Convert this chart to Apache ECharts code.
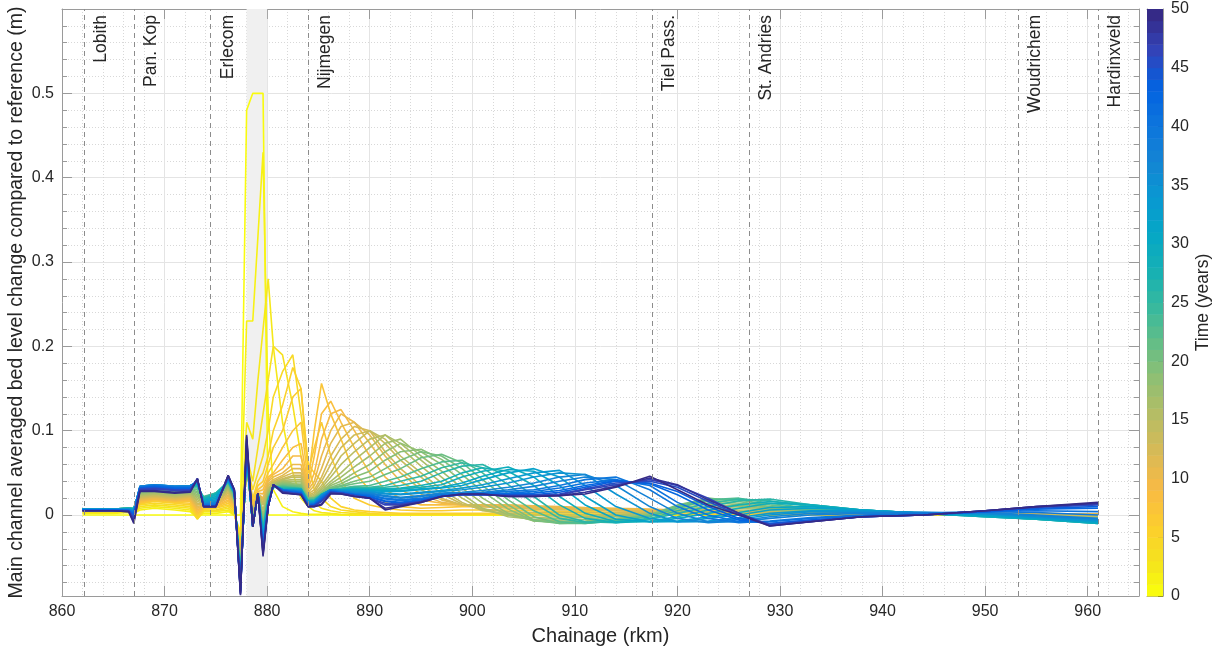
<!DOCTYPE html>
<html>
<head>
<meta charset="utf-8">
<script src="https://cdn.jsdelivr.net/npm/echarts@6/dist/echarts.min.js"></script>
<style>
  html, body { margin: 0; padding: 0; background: #fff; }
  #chart { width: 1217px; height: 654px; }
</style>
</head>
<body>
<div id="chart"></div>
<script>
// chainage grid (rkm) shared by all profiles
const km = [862, 865, 866.5, 867, 867.6, 869, 871, 872.5, 873.2, 873.8, 875, 876.2, 876.8,
  877.4, 878, 878.6, 879.1, 879.6, 880.1, 880.6,
  881.5, 882.5, 883.3, 884, 884.6, 885.3, 886.2, 887.2, 888.5, 890, 891.5, 893,
  895, 897, 899, 901, 903.5, 906, 908.5, 911, 914, 917.3,
  920, 923, 926, 929, 933, 938, 944, 950, 955, 961];

// years of the plotted profiles
const years = [0, 1, 2, 3, 4, 5, 6, 7, 8, 9, 10, 11, 12, 13, 14, 15, 16, 17, 18, 19, 20, 21,
  23, 25, 26, 28, 29, 31, 32, 34, 35, 37, 38, 40, 41, 43, 44, 46, 47, 49, 50];

// bed level change (m) per year
const y00 = [0,0,0,0,0,0,0,0,0,0,0,0,0,
  0,0.48,0.5,0.5,0.5,0,0,
  0,0,0,0,0,0,0,0,0,0,0,0,
  0,0,0,0,0,0,0,0,0,0,
  0,0,0,0,0,0,0,0,0,0];
const y01 = [0.002,0.002,0.003,0.002,0.006,0.008,0.006,0.004,-0.003,0.002,0.002,0.004,0,
  -0.02,0.23,0.23,0.33,0.43,0.12,0.03,
  0.01,0.004,0.002,0.001,0.001,0.001,0.001,0,0,0,0,0,
  0,0,0,0,0,0,0,0,0,0,
  0,0,0,0,0,0,0,0,0,0];
const y02 = [0.003,0.003,0.004,0.003,0.008,0.01,0.008,0.006,-0.004,0.004,0.004,0.006,0,
  -0.025,0.11,0.09,0.16,0.22,0.28,0.2,
  0.11,0.05,0.02,0.01,0.005,0.003,0.002,0.001,0,0,0,0,
  0,0,0,0,0,0,0,0,0,0,
  0,0,0,0,0,0,0,0,0,0];
const y03 = [0.004,0.004,0.004,0.003,0.01,0.012,0.01,0.008,-0.005,0.005,0.005,0.008,0.002,
  -0.03,0.07,0.04,0.08,0.12,0.16,0.2,
  0.19,0.13,0.07,0.03,0.015,0.008,0.005,0.003,0.002,0.001,0.001,0.001,
  0.001,0.001,0.001,0.001,0.001,0.001,0.001,0.001,0.001,0.001,
  0,0,0,0,0,0,0,0,0,0];
const y04 = [0.004,0.004,0.005,0.004,0.012,0.014,0.012,0.01,-0.004,0.006,0.006,0.01,0.004,
  -0.035,0.06,0.03,0.05,0.07,0.1,0.14,
  0.17,0.19,0.12,0.06,0.03,0.02,0.01,0.006,0.004,0.002,0.001,0.001,
  0.001,0.001,0.001,0.001,0.001,0.001,0.001,0.001,0.001,0.001,
  0.001,0.001,0,0,0,0,0,0,0,0];
const y05 = [0.005,0.005,0.005,0.004,0.013,0.016,0.014,0.012,-0.002,0.007,0.008,0.012,0.006,
  -0.04,0.06,0.02,0.04,0.05,0.07,0.1,
  0.13,0.175,0.15,0.06,0.05,0.04,0.02,0.01,0.006,0.004,0.003,0.002,
  0.002,0.002,0.002,0.002,0.002,0.002,0.001,0.001,0.001,0.001,
  0.001,0.001,0.001,0.001,0,0,0,0,0,0];
const y06 = [0.005,0.005,0.006,0.005,0.014,0.017,0.015,0.014,0,0.008,0.009,0.014,0.008,
  -0.045,0.06,0.015,0.035,0.04,0.06,0.08,
  0.1,0.14,0.15,0.05,0.08,0.11,0.07,0.04,0.02,0.012,0.008,0.006,
  0.005,0.005,0.006,0.006,0.006,0.005,0.004,0.004,0.003,0.003,
  0.003,0.002,0.002,0.002,0.002,0.001,0.001,0.001,0.001,0.001];
const y07 = [0.006,0.006,0.006,0.005,0.015,0.018,0.016,0.016,0.002,0.009,0.01,0.016,0.01,
  -0.05,0.06,0.01,0.03,0.035,0.05,0.06,
  0.08,0.1,0.11,0.04,0.1,0.156,0.12,0.09,0.05,0.03,0.015,0.01,
  0.008,0.009,0.01,0.01,0.01,0.008,0.007,0.006,0.005,0.004,
  0.004,0.003,0.003,0.003,0.002,0.002,0.002,0.001,0.001,0.001];
const y08 = [0.006,0.006,0.006,0.005,0.016,0.019,0.017,0.018,0.004,0.01,0.011,0.018,0.011,
  -0.052,0.06,0.008,0.028,0.03,0.045,0.05,
  0.065,0.08,0.085,0.035,0.07,0.12,0.135,0.11,0.08,0.05,0.03,0.02,
  0.012,0.012,0.012,0.012,0.011,0.01,0.009,0.008,0.006,0.005,
  0.005,0.004,0.004,0.003,0.003,0.002,0.002,0.002,0.001,0.001];
const y09 = [0.006,0.006,0.006,0.005,0.017,0.019,0.017,0.019,0.006,0.011,0.012,0.02,0.012,
  -0.054,0.06,0.006,0.026,0.025,0.042,0.048,
  0.055,0.07,0.07,0.032,0.05,0.09,0.12,0.125,0.1,0.07,0.045,0.03,
  0.018,0.014,0.012,0.012,0.011,0.01,0.009,0.008,0.007,0.006,
  0.005,0.004,0.004,0.003,0.003,0.002,0.002,0.002,0.001,0.001];
const y10 = [0.006,0.006,0.007,0.006,0.018,0.02,0.018,0.02,0.008,0.012,0.013,0.022,0.013,
  -0.055,0.06,0.005,0.025,0.02,0.04,0.045,
  0.05,0.06,0.06,0.03,0.04,0.07,0.1,0.12,0.11,0.085,0.06,0.04,
  0.025,0.015,0.012,0.012,0.012,0.011,0.01,0.009,0.008,0.007,
  0.006,0.005,0.004,0.004,0.003,0.003,0.002,0.002,0.002,0.001];
const y11 = [0.006,0.006,0.007,0.006,0.019,0.021,0.019,0.021,0.01,0.012,0.014,0.024,0.014,
  -0.057,0.06,0.002,0.025,0.018,0.037,0.042,
  0.047,0.055,0.055,0.027,0.035,0.055,0.085,0.105,0.11,0.095,0.07,0.05,
  0.03,0.018,0.012,0.011,0.01,0.009,0.008,0.007,0.006,0.005,
  0.005,0.004,0.004,0.003,0.003,0.002,0.002,0.002,0.001,0.001];
const y12 = [0.006,0.006,0.007,0.006,0.02,0.022,0.02,0.022,0.012,0.013,0.015,0.026,0.015,
  -0.058,0.06,0,0.025,0.015,0.035,0.04,
  0.045,0.05,0.05,0.025,0.03,0.045,0.07,0.09,0.105,0.1,0.075,0.055,
  0.035,0.02,0.012,0.01,0.008,0.007,0.006,0.006,0.005,0.004,
  0.004,0.004,0.003,0.003,0.003,0.002,0.002,0.002,0.001,0];
const y13 = [0.006,0.006,0.007,0.006,0.021,0.023,0.021,0.023,0.014,0.013,0.015,0.028,0.016,
  -0.059,0.06,-0.001,0.025,0.013,0.032,0.039,
  0.043,0.047,0.047,0.023,0.027,0.04,0.06,0.08,0.095,0.1,0.085,0.065,
  0.045,0.025,0.013,0.007,0.004,0.003,0.003,0.003,0.003,0.003,
  0.003,0.004,0.003,0.003,0.003,0.002,0.002,0.002,0.001,-0.001];
const y14 = [0.007,0.007,0.007,0.006,0.022,0.024,0.022,0.024,0.016,0.014,0.016,0.03,0.017,
  -0.06,0.06,-0.002,0.025,0.012,0.03,0.038,
  0.042,0.045,0.045,0.022,0.025,0.035,0.05,0.07,0.085,0.1,0.09,0.07,
  0.05,0.03,0.015,0.005,0.002,0,0,0,0.001,0.002,
  0.003,0.004,0.004,0.004,0.003,0.003,0.002,0.002,0,-0.002];
const y15 = [0.007,0.007,0.007,0.006,0.023,0.025,0.023,0.025,0.018,0.015,0.017,0.031,0.018,
  -0.062,0.061,-0.003,0.025,0.006,0.029,0.037,
  0.041,0.042,0.042,0.021,0.023,0.032,0.045,0.06,0.075,0.09,0.095,0.08,
  0.058,0.038,0.02,0.006,0,-0.003,-0.002,-0.002,0,0.002,
  0.004,0.007,0.006,0.005,0.004,0.003,0.002,0.001,-0.001,-0.003];
const y16 = [0.007,0.007,0.007,0.007,0.024,0.026,0.024,0.026,0.02,0.016,0.018,0.032,0.019,
  -0.065,0.062,-0.005,0.025,0,0.028,0.036,
  0.04,0.04,0.04,0.02,0.022,0.03,0.04,0.05,0.065,0.08,0.095,0.085,
  0.065,0.045,0.025,0.008,-0.002,-0.005,-0.004,-0.003,-0.001,0.002,
  0.006,0.01,0.008,0.006,0.004,0.003,0.002,0.001,-0.001,-0.003];
const y17 = [0.007,0.007,0.007,0.007,0.025,0.027,0.025,0.027,0.022,0.017,0.019,0.033,0.019,
  -0.066,0.063,-0.006,0.025,-0.003,0.026,0.035,
  0.039,0.038,0.038,0.02,0.021,0.028,0.037,0.045,0.057,0.07,0.085,0.09,
  0.07,0.052,0.032,0.014,0,-0.006,-0.006,-0.005,-0.002,0.001,
  0.008,0.013,0.01,0.007,0.005,0.003,0.002,0,-0.002,-0.004];
const y18 = [0.007,0.007,0.008,0.007,0.026,0.028,0.026,0.028,0.024,0.018,0.02,0.034,0.02,
  -0.068,0.065,-0.008,0.025,-0.005,0.025,0.034,
  0.038,0.037,0.036,0.02,0.02,0.027,0.035,0.04,0.05,0.06,0.075,0.085,
  0.075,0.06,0.04,0.02,0.002,-0.007,-0.008,-0.007,-0.004,0,
  0.01,0.016,0.012,0.008,0.005,0.003,0.002,0,-0.002,-0.005];
const y19 = [0.007,0.007,0.008,0.007,0.027,0.029,0.027,0.029,0.026,0.019,0.021,0.035,0.021,
  -0.069,0.066,-0.009,0.025,-0.008,0.023,0.033,
  0.037,0.036,0.035,0.02,0.02,0.026,0.033,0.037,0.045,0.052,0.065,0.075,
  0.078,0.066,0.048,0.028,0.007,-0.007,-0.009,-0.008,-0.005,0,
  0.011,0.018,0.014,0.009,0.005,0.003,0.002,0,-0.003,-0.006];
const y20 = [0.007,0.007,0.008,0.007,0.028,0.03,0.028,0.03,0.028,0.02,0.022,0.036,0.022,
  -0.07,0.067,-0.01,0.025,-0.01,0.022,0.033,
  0.036,0.035,0.034,0.02,0.02,0.026,0.032,0.035,0.04,0.045,0.055,0.065,
  0.075,0.07,0.055,0.035,0.012,-0.006,-0.01,-0.009,-0.005,0,
  0.012,0.02,0.016,0.01,0.006,0.004,0.002,0,-0.003,-0.007];
const y21 = [0.007,0.007,0.008,0.007,0.029,0.031,0.029,0.031,0.03,0.021,0.024,0.037,0.023,
  -0.071,0.068,-0.011,0.025,-0.012,0.021,0.033,
  0.035,0.034,0.033,0.019,0.02,0.025,0.031,0.034,0.037,0.04,0.048,0.055,
  0.068,0.072,0.062,0.042,0.018,-0.002,-0.01,-0.01,-0.006,-0.001,
  0.01,0.019,0.018,0.012,0.007,0.004,0.002,0,-0.003,-0.007];
const y23 = [0.007,0.007,0.008,0.008,0.03,0.032,0.03,0.032,0.032,0.022,0.026,0.038,0.024,
  -0.073,0.07,-0.012,0.025,-0.014,0.02,0.033,
  0.034,0.033,0.032,0.018,0.019,0.025,0.03,0.032,0.034,0.035,0.04,0.045,
  0.055,0.063,0.065,0.05,0.025,0.005,-0.008,-0.01,-0.007,-0.002,
  0.008,0.018,0.02,0.014,0.008,0.005,0.002,0,-0.004,-0.008];
const y25 = [0.007,0.007,0.008,0.008,0.031,0.033,0.031,0.033,0.034,0.021,0.026,0.039,0.025,
  -0.075,0.071,-0.013,0.025,-0.016,0.019,0.033,
  0.033,0.032,0.031,0.017,0.018,0.024,0.03,0.031,0.033,0.033,0.035,0.04,
  0.046,0.056,0.062,0.056,0.036,0.014,-0.004,-0.009,-0.008,-0.004,
  0.005,0.014,0.019,0.017,0.01,0.006,0.002,-0.001,-0.005,-0.009];
const y26 = [0.007,0.007,0.008,0.008,0.031,0.033,0.031,0.033,0.035,0.02,0.026,0.04,0.025,
  -0.076,0.072,-0.013,0.025,-0.018,0.018,0.033,
  0.032,0.032,0.031,0.017,0.018,0.024,0.03,0.031,0.032,0.032,0.033,0.035,
  0.04,0.05,0.058,0.06,0.045,0.022,0,-0.008,-0.009,-0.005,
  0.002,0.01,0.017,0.019,0.012,0.006,0.002,-0.002,-0.005,-0.01];
const y28 = [0.007,0.007,0.008,0.007,0.032,0.034,0.032,0.034,0.036,0.019,0.025,0.04,0.026,
  -0.078,0.073,-0.013,0.025,-0.02,0.017,0.034,
  0.031,0.031,0.031,0.016,0.017,0.024,0.03,0.03,0.031,0.031,0.031,0.032,
  0.035,0.04,0.05,0.056,0.052,0.035,0.012,-0.004,-0.009,-0.007,
  -0.002,0.006,0.012,0.016,0.012,0.006,0.002,-0.002,-0.005,-0.01];
const y29 = [0.007,0.007,0.008,0.007,0.032,0.034,0.032,0.034,0.037,0.018,0.024,0.04,0.026,
  -0.079,0.074,-0.013,0.025,-0.022,0.016,0.034,
  0.031,0.031,0.031,0.016,0.017,0.024,0.03,0.03,0.031,0.03,0.03,0.031,
  0.033,0.036,0.045,0.052,0.057,0.045,0.022,0.002,-0.008,-0.008,
  -0.004,0.002,0.008,0.014,0.012,0.006,0.002,-0.002,-0.005,-0.01];
const y31 = [0.007,0.007,0.007,0.006,0.033,0.035,0.033,0.035,0.038,0.017,0.022,0.041,0.027,
  -0.081,0.075,-0.014,0.026,-0.025,0.015,0.035,
  0.03,0.03,0.03,0.015,0.016,0.024,0.03,0.03,0.03,0.029,0.029,0.029,
  0.031,0.033,0.038,0.046,0.054,0.052,0.035,0.012,-0.005,-0.008,
  -0.007,-0.002,0.003,0.009,0.01,0.006,0.002,-0.001,-0.004,-0.009];
const y32 = [0.007,0.007,0.007,0.006,0.033,0.035,0.033,0.035,0.038,0.016,0.02,0.041,0.027,
  -0.082,0.076,-0.014,0.026,-0.026,0.014,0.035,
  0.03,0.03,0.03,0.015,0.016,0.024,0.03,0.03,0.03,0.029,0.028,0.028,
  0.03,0.032,0.035,0.042,0.05,0.055,0.045,0.022,0,-0.008,
  -0.008,-0.004,0,0.006,0.008,0.006,0.002,0,-0.004,-0.008];
const y34 = [0.007,0.007,0.007,0.005,0.034,0.036,0.034,0.035,0.039,0.015,0.018,0.042,0.027,
  -0.084,0.077,-0.014,0.026,-0.029,0.013,0.035,
  0.03,0.03,0.029,0.014,0.015,0.023,0.03,0.029,0.029,0.028,0.026,0.025,
  0.027,0.029,0.032,0.036,0.043,0.05,0.053,0.035,0.01,-0.004,
  -0.008,-0.007,-0.003,0.002,0.005,0.005,0.003,0.001,-0.003,-0.007];
const y35 = [0.007,0.007,0.007,0.005,0.034,0.036,0.034,0.035,0.039,0.014,0.016,0.042,0.027,
  -0.085,0.078,-0.014,0.026,-0.03,0.012,0.035,
  0.03,0.029,0.029,0.014,0.015,0.023,0.03,0.029,0.028,0.027,0.025,0.024,
  0.026,0.028,0.03,0.033,0.038,0.045,0.05,0.048,0.025,0.002,
  -0.008,-0.008,-0.005,0,0.004,0.004,0.003,0.002,-0.002,-0.006];
const y37 = [0.006,0.006,0.006,0.004,0.034,0.036,0.034,0.034,0.04,0.013,0.015,0.043,0.027,
  -0.086,0.079,-0.014,0.026,-0.033,0.011,0.035,
  0.03,0.029,0.028,0.013,0.014,0.022,0.03,0.028,0.027,0.026,0.023,0.021,
  0.023,0.026,0.027,0.029,0.033,0.038,0.045,0.048,0.035,0.01,
  -0.004,-0.009,-0.007,-0.002,0.002,0.003,0.003,0.002,-0.001,-0.005];
const y38 = [0.006,0.006,0.006,0.004,0.034,0.036,0.034,0.034,0.04,0.013,0.014,0.043,0.027,
  -0.087,0.08,-0.013,0.026,-0.034,0.011,0.035,
  0.03,0.029,0.028,0.013,0.014,0.022,0.03,0.028,0.026,0.025,0.022,0.02,
  0.022,0.025,0.026,0.027,0.03,0.034,0.04,0.045,0.042,0.02,
  0.002,-0.008,-0.008,-0.004,0,0.002,0.003,0.003,0,-0.004];
const y40 = [0.006,0.006,0.006,0.003,0.033,0.035,0.033,0.033,0.041,0.012,0.013,0.044,0.028,
  -0.088,0.081,-0.013,0.026,-0.036,0.01,0.035,
  0.03,0.028,0.027,0.012,0.013,0.021,0.029,0.027,0.025,0.024,0.02,0.018,
  0.02,0.024,0.025,0.026,0.028,0.03,0.035,0.042,0.045,0.03,
  0.01,-0.004,-0.009,-0.007,-0.003,0,0.002,0.004,0.003,0];
const y41 = [0.006,0.006,0.006,0.002,0.033,0.035,0.033,0.033,0.041,0.012,0.012,0.044,0.028,
  -0.089,0.082,-0.013,0.026,-0.037,0.01,0.035,
  0.03,0.028,0.027,0.012,0.013,0.02,0.029,0.027,0.025,0.023,0.019,0.017,
  0.019,0.023,0.025,0.025,0.026,0.028,0.032,0.038,0.042,0.035,
  0.015,0,-0.008,-0.008,-0.004,-0.001,0.001,0.004,0.005,0.004];
const y43 = [0.006,0.006,0.005,0.001,0.032,0.034,0.032,0.032,0.042,0.011,0.011,0.045,0.029,
  -0.09,0.084,-0.014,0.026,-0.039,0.01,0.036,
  0.029,0.027,0.026,0.011,0.012,0.019,0.028,0.026,0.024,0.022,0.017,0.015,
  0.018,0.022,0.024,0.024,0.025,0.026,0.029,0.035,0.041,0.037,
  0.024,0.006,-0.006,-0.01,-0.006,-0.002,0,0.004,0.007,0.008];
const y44 = [0.006,0.006,0.005,0,0.032,0.033,0.031,0.031,0.042,0.011,0.011,0.045,0.029,
  -0.091,0.085,-0.014,0.026,-0.04,0.01,0.036,
  0.029,0.027,0.026,0.011,0.012,0.018,0.028,0.026,0.024,0.021,0.016,0.014,
  0.017,0.022,0.024,0.024,0.024,0.024,0.027,0.033,0.04,0.038,
  0.028,0.01,-0.004,-0.01,-0.006,-0.002,0,0.004,0.008,0.01];
const y46 = [0.005,0.005,0.005,-0.003,0.031,0.032,0.03,0.03,0.043,0.01,0.01,0.046,0.03,
  -0.092,0.088,-0.014,0.026,-0.043,0.01,0.036,
  0.028,0.026,0.025,0.01,0.011,0.017,0.027,0.026,0.023,0.02,0.014,0.013,
  0.016,0.022,0.024,0.024,0.023,0.023,0.025,0.031,0.038,0.04,
  0.033,0.016,0,-0.011,-0.007,-0.002,0,0.005,0.009,0.012];
const y47 = [0.005,0.005,0.005,-0.005,0.03,0.031,0.029,0.029,0.043,0.01,0.01,0.046,0.03,
  -0.093,0.09,-0.014,0.026,-0.045,0.01,0.036,
  0.028,0.026,0.025,0.01,0.011,0.016,0.027,0.026,0.023,0.02,0.012,0.012,
  0.016,0.022,0.024,0.024,0.023,0.023,0.024,0.03,0.036,0.042,
  0.035,0.02,0.002,-0.012,-0.008,-0.002,0,0.005,0.01,0.013];
const y49 = [0.005,0.005,0.004,-0.008,0.029,0.029,0.027,0.028,0.043,0.01,0.01,0.047,0.03,
  -0.094,0.093,-0.014,0.026,-0.047,0.01,0.036,
  0.027,0.025,0.024,0.01,0.01,0.013,0.026,0.025,0.022,0.02,0.008,0.011,
  0.015,0.022,0.025,0.025,0.022,0.022,0.023,0.027,0.034,0.044,
  0.036,0.018,0.002,-0.013,-0.008,-0.002,0,0.005,0.01,0.014];
const y50 = [0.005,0.005,0.004,-0.01,0.028,0.028,0.026,0.027,0.043,0.01,0.01,0.047,0.03,
  -0.095,0.095,-0.014,0.026,-0.049,0.01,0.036,
  0.026,0.025,0.024,0.01,0.01,0.012,0.025,0.025,0.022,0.02,0.006,0.01,
  0.015,0.022,0.025,0.025,0.022,0.022,0.023,0.025,0.033,0.046,
  0.03,0.012,0,-0.013,-0.008,-0.002,0,0.005,0.01,0.015];

const profiles = [y00, y01, y02, y03, y04, y05, y06, y07, y08, y09, y10, y11, y12, y13, y14,
  y15, y16, y17, y18, y19, y20, y21, y23, y25, y26, y28, y29, y31, y32, y34, y35, y37, y38,
  y40, y41, y43, y44, y46, y47, y49, y50];

// measuring stations and nourishment reach
const stationNames = ['Lobith', 'Pan. Kop', 'Erlecom', 'Nijmegen', 'Tiel Pass.', 'St. Andries', 'Woudrichem', 'Hardinxveld'];
const stationKm = [862.2, 867, 874.5, 884, 917.5, 927, 953.2, 961];
const nourishReach = [878, 880];
const timeRange = [0, 50];

// parula colormap (flipped: 0 years = yellow, 50 years = dark blue)
const parulaPos = [0, 4, 8, 12, 16, 20, 24, 28, 32, 36, 40, 44, 48, 52, 56, 60, 63];
const parulaRGB = [
  [0.2081, 0.1663, 0.5292], [0.1959, 0.2645, 0.7279], [0.0117, 0.3875, 0.8820],
  [0.0498, 0.4586, 0.8641], [0.0793, 0.5200, 0.8312], [0.0343, 0.5966, 0.8199],
  [0.0228, 0.6535, 0.7768], [0.0843, 0.6928, 0.7062], [0.2178, 0.7250, 0.6193],
  [0.3953, 0.7459, 0.5244], [0.5709, 0.7485, 0.4494], [0.7184, 0.7411, 0.3905],
  [0.8507, 0.7299, 0.3360], [0.9739, 0.7314, 0.2666], [0.9880, 0.8066, 0.1794],
  [0.9589, 0.8949, 0.1132], [0.9763, 0.9831, 0.0538]
];
function parula(t) {
  const f = Math.max(0, Math.min(1, t)) * 63;
  let i = 0;
  while (i < parulaPos.length - 2 && f > parulaPos[i + 1]) i++;
  const r = (f - parulaPos[i]) / (parulaPos[i + 1] - parulaPos[i]);
  const a = parulaRGB[i], b = parulaRGB[i + 1];
  const c = a.map((v, k) => Math.round(255 * (v + (b[k] - v) * r)));
  return 'rgb(' + c.join(',') + ')';
}
const yearColor = (yr) => parula(1 - (yr - timeRange[0]) / (timeRange[1] - timeRange[0]));

const FONT = '"Liberation Sans", Arial, Helvetica, sans-serif';
const AXIS = '#9a9a9a';
const TEXT = '#262626';

const chart = echarts.init(document.getElementById('chart'));

const lineSeries = profiles.map((vals, j) => ({
  type: 'line',
  name: 'Year ' + years[j],
  xAxisIndex: 0,
  yAxisIndex: 0,
  data: km.map((x, i) => [x, vals[i]]),
  symbol: 'none',
  silent: true,
  z: 3,
  lineStyle: { width: 1.6, color: yearColor(years[j]) },
  itemStyle: { color: yearColor(years[j]) }
}));

const option = {
  animation: false,
  textStyle: { fontFamily: FONT },
  grid: [
    { left: 62, top: 9, width: 1077, height: 587, outerBoundsMode: 'none' },
    { left: 1147, top: 9, width: 16, height: 587, outerBoundsMode: 'none' }
  ],
  xAxis: [
    {
      gridIndex: 0, type: 'value', min: 860, max: 965, interval: 10, position: 'bottom',
      axisLine: { onZero: false, lineStyle: { color: AXIS } },
      axisTick: { inside: true, length: 10, lineStyle: { color: AXIS } },
      axisLabel: { color: TEXT, fontSize: 16, showMaxLabel: false, margin: 8 },
      splitLine: { show: true, lineStyle: { color: '#e4e4e4' } },
      minorTick: { show: false, splitNumber: 5 },
      minorSplitLine: { show: true, lineStyle: { color: '#d8d8d8', type: [1, 2] } },
      name: 'Chainage (rkm)', nameLocation: 'middle', nameGap: 30,
      nameTextStyle: { color: TEXT, fontSize: 20 }
    },
    {
      gridIndex: 0, type: 'value', min: 860, max: 965, interval: 10, position: 'top',
      axisLine: { onZero: false, lineStyle: { color: AXIS } },
      axisTick: { inside: true, length: 10, lineStyle: { color: AXIS } },
      axisLabel: { show: false }, splitLine: { show: false }
    },
    {
      gridIndex: 1, type: 'value', min: 0, max: 1, position: 'bottom',
      axisLine: { onZero: false, lineStyle: { color: AXIS } },
      axisTick: { show: false }, axisLabel: { show: false }, splitLine: { show: false }
    },
    {
      gridIndex: 1, type: 'value', min: 0, max: 1, position: 'top',
      axisLine: { onZero: false, lineStyle: { color: AXIS } },
      axisTick: { show: false }, axisLabel: { show: false }, splitLine: { show: false }
    }
  ],
  yAxis: [
    {
      gridIndex: 0, type: 'value', min: -0.096, max: 0.6, splitNumber: 7, position: 'left',
      axisLine: { show: true, onZero: false, lineStyle: { color: AXIS } },
      axisTick: { inside: true, length: 10, lineStyle: { color: AXIS } },
      minorTick: { show: true, splitNumber: 5, length: 5, lineStyle: { color: AXIS } },
      axisLabel: {
        color: TEXT, fontSize: 16, margin: 8, showMinLabel: false, showMaxLabel: false,
        formatter: (v) => (Math.abs(v) < 1e-9 ? '0' : String(+v.toFixed(2)))
      },
      splitLine: { show: true, lineStyle: { color: '#e4e4e4' } },
      minorSplitLine: { show: true, lineStyle: { color: '#d8d8d8', type: [1, 2] } },
      name: 'Main channel averaged bed level change compared to reference (m)',
      nameLocation: 'middle', nameGap: 35, nameMoveOverlap: false,
      nameTextStyle: { color: TEXT, fontSize: 19.5 }
    },
    {
      gridIndex: 0, type: 'value', min: -0.096, max: 0.6, splitNumber: 7, position: 'right',
      axisLine: { show: true, onZero: false, lineStyle: { color: AXIS } },
      axisTick: { inside: true, length: 10, lineStyle: { color: AXIS } },
      minorTick: { show: true, splitNumber: 5, length: 5, lineStyle: { color: AXIS } },
      axisLabel: { show: false }, splitLine: { show: false }
    },
    {
      gridIndex: 1, type: 'value', min: timeRange[0], max: timeRange[1], interval: 5, position: 'right',
      axisLine: { show: true, onZero: false, lineStyle: { color: AXIS } },
      axisTick: { inside: true, length: 5, lineStyle: { color: '#333' } },
      axisLabel: { color: TEXT, fontSize: 16, margin: 8 },
      splitLine: { show: false },
      name: 'Time (years)', nameLocation: 'middle', nameGap: 31, nameRotate: 90,
      nameTextStyle: { color: TEXT, fontSize: 17.5 }
    },
    {
      gridIndex: 1, type: 'value', min: timeRange[0], max: timeRange[1], position: 'left',
      axisLine: { show: true, onZero: false, lineStyle: { color: AXIS } },
      axisTick: { show: false }, axisLabel: { show: false }, splitLine: { show: false }
    }
  ],
  series: [
    {
      type: 'line',
      name: 'stations',
      xAxisIndex: 0,
      yAxisIndex: 0,
      data: [],
      silent: true,
      z: 2,
      markArea: {
        silent: true,
        itemStyle: { color: '#f0f0f0' },
        data: [[{ xAxis: nourishReach[0] }, { xAxis: nourishReach[1] }]]
      },
      markLine: {
        silent: true,
        symbol: ['none', 'none'],
        lineStyle: { color: '#8c8c8c', width: 1, type: [5, 4] },
        label: {
          show: true, position: 'insideEndBottom', formatter: '{b}',
          color: TEXT, fontSize: 17.5, distance: [6, 8]
        },
        emphasis: { disabled: true },
        data: stationKm.map((x, i) => ({ xAxis: x, name: stationNames[i] }))
      }
    },
    ...lineSeries,
    {
      type: 'custom',
      name: 'colorbar',
      xAxisIndex: 2,
      yAxisIndex: 2,
      silent: true,
      data: [timeRange],
      renderItem: (params, api) => {
        const children = [];
        const n = timeRange[1] - timeRange[0];
        for (let k = 0; k < n; k++) {
          const p0 = api.coord([0, timeRange[0] + k]);
          const p1 = api.coord([1, timeRange[0] + k + 1]);
          children.push({
            type: 'rect',
            shape: { x: p0[0], y: p1[1], width: p1[0] - p0[0], height: p0[1] - p1[1] + 0.5 },
            style: { fill: parula(1 - k / (n - 1)) }
          });
        }
        return { type: 'group', children };
      }
    }
  ]
};

chart.setOption(option);
</script>
</body>
</html>
